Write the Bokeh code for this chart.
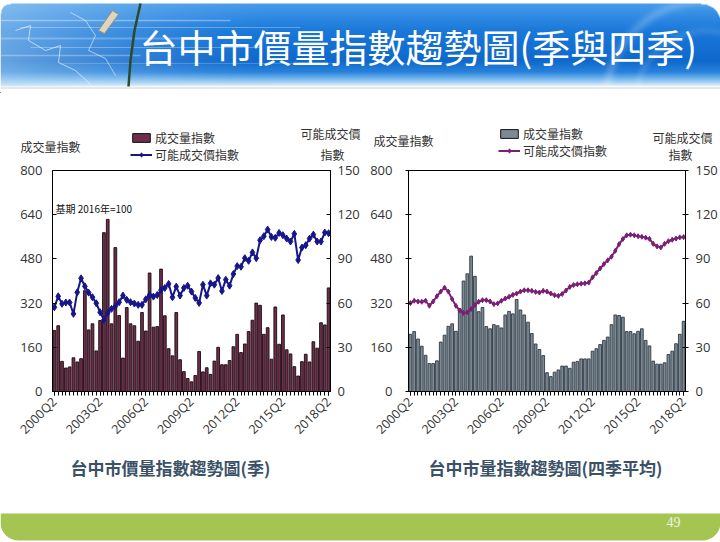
import math
import numpy as np
from bokeh.plotting import figure
from bokeh.models import (Range1d, LinearAxis, FixedTicker, Legend, LegendItem,
                          Label, ColumnDataSource)
from bokeh.core.properties import value
from bokeh.layouts import column, row
from bokeh.embed import file_html
from bokeh.resources import INLINE

# ---------------- data ----------------
quarters = [f"{y}Q{q}" for y in range(2000, 2019) for q in range(1, 5)][1:74]   # 2000Q2 .. 2018Q2
tick_labels = ["2000Q2", "2003Q2", "2006Q2", "2009Q2", "2012Q2", "2015Q2", "2018Q2"]

# quarterly volume index (成交量指數)
volume_q = [221, 238, 109, 85, 89, 122, 107, 119, 365, 223,
            245, 147, 257, 575, 623, 245, 521, 275, 121, 304,
            245, 238, 182, 286, 219, 429, 233, 235, 443, 274,
            155, 129, 286, 115, 72, 47, 35, 58, 145, 71,
            86, 62, 110, 160, 97, 97, 112, 162, 207, 141,
            172, 217, 258, 320, 312, 207, 231, 117, 306, 171,
            277, 151, 136, 90, 56, 108, 135, 107, 180, 157,
            249, 241, 375]
# quarterly possible transaction price index (可能成交價指數)
price_q = [57.2, 64.6, 59.5, 60.4, 60.4, 52.7, 67.3, 76.8, 71.4, 67.1,
           64.0, 59.9, 53.8, 48.6, 53.4, 56.1, 57.9, 60.6, 65.1, 62.2,
           60.6, 59.7, 58.8, 58.8, 62.6, 65.5, 64.4, 65.5, 68.9, 70.3,
           73.0, 64.0, 71.2, 65.1, 70.3, 71.8, 67.8, 63.5, 60.1, 72.5,
           65.1, 73.4, 72.5, 77.0, 68.2, 75.9, 71.8, 79.7, 85.1, 84.7,
           90.5, 88.7, 94.4, 90.5, 102.7, 105.4, 109.9, 104.9, 104.3, 107.6,
           106.1, 103.8, 101.8, 107.0, 89.2, 97.7, 99.3, 103.8, 106.5, 101.8,
           101.8, 107.9, 107.4]

# four-quarter average volume index
volume_4q = [207, 217, 190, 164, 131, 101, 101, 111, 179, 204,
             236, 245, 218, 300, 400, 426, 490, 417, 289, 304,
             235, 227, 242, 238, 230, 277, 290, 281, 333, 295,
             277, 251, 210, 172, 152, 130, 68, 54, 70, 78,
             92, 92, 84, 106, 109, 118, 118, 118, 146, 155,
             170, 185, 197, 242, 277, 275, 269, 217, 217, 209,
             218, 227, 185, 165, 110, 99, 99, 104, 134, 146,
             173, 207, 254]
# four-quarter average price index
price_4q = [60.0, 61.6, 61.1, 60.9, 61.6, 58.2, 61.1, 64.7, 67.8, 70.5,
            67.8, 62.7, 58.2, 54.9, 53.3, 53.7, 56.0, 58.7, 60.9, 62.0,
            62.0, 61.1, 59.3, 59.8, 61.6, 63.1, 64.3, 65.6, 66.5, 67.8,
            68.7, 68.7, 68.3, 67.6, 67.2, 68.3, 67.8, 66.5, 65.4, 64.9,
            66.2, 68.5, 71.0, 72.3, 72.8, 73.2, 73.4, 73.9, 77.5, 80.4,
            83.5, 86.5, 89.0, 91.5, 95.5, 100.0, 103.5, 106.0, 106.4, 106.0,
            105.4, 105.0, 104.4, 103.6, 100.2, 98.5, 97.8, 100.2, 102.0, 103.0,
            103.8, 104.6, 104.8]

legend_labels = ["成交量指數", "可能成交價指數"]

CJK = "Noto Sans CJK TC"
NUM = "Open Sans"

LEFT_STYLE = dict(bar_fill="#6e2e4c", bar_line="#1a0a0f", line_color="#16168a", msize=7)
RIGHT_STYLE = dict(bar_fill="#7d8a94", bar_line="#2e3a44", line_color="#7b1e77", msize=5)

B = 162   # page y where the chart row starts


def blank(width, height, x0, y0, flip=True):
    yr = Range1d(y0 + height, y0) if flip else Range1d(0, height)
    f = figure(width=width, height=height, x_range=Range1d(x0, x0 + width), y_range=yr,
               x_axis_type=None, y_axis_type=None, toolbar_location=None,
               output_backend="svg", min_border=0)
    f.outline_line_color = None
    f.grid.visible = False
    f.background_fill_color = "white"
    f.border_fill_color = "white"
    return f


# ---------------- header ----------------
hdr = blank(720, 92, 0, 0, flip=False)
H, W = 86, 720
yy, xx = np.mgrid[0:H, 0:W].astype(float)
stops_y = [0, 3, 30, 60, 71, 78, 83, 86]
stops_c = np.array([[70, 155, 235], [70, 155, 235], [25, 120, 218], [15, 105, 205],
                    [40, 130, 220], [120, 185, 238], [195, 222, 246], [255, 255, 255]], float)
rgb = np.zeros((H, W, 3))
for k in range(3):
    rgb[:, :, k] = np.interp(yy, stops_y, stops_c[:, k])
light = np.clip(1 - xx / 270.0, 0, 1) ** 1.4 * 0.5
rgb = rgb * (1 - light[..., None]) + np.array([190, 222, 245]) * light[..., None]
d = np.sqrt((xx - 705) ** 2 + (yy - 100) ** 2)
ring = np.exp(-((d - 100) / 5.0) ** 2) * 0.18 + np.exp(-((d - 70) / 4.0) ** 2) * 0.10
rgb = rgb * (1 - ring[..., None]) + 255 * ring[..., None]
alpha = np.full((H, W), 255.0)
alpha[yy < 3] = 0
r = 20
cm = (xx > W - r) & (yy < 3 + r) & ((xx - (W - r)) ** 2 + (yy - (3 + r)) ** 2 > r * r)
alpha[cm] = 0
r2 = 10
cm2 = (xx < r2) & (yy < 3 + r2) & ((xx - r2) ** 2 + (yy - (3 + r2)) ** 2 > r2 * r2)
alpha[cm2] = 0
img = np.zeros((H, W), dtype=np.uint32)
view = img.view(dtype=np.uint8).reshape((H, W, 4))
for k in range(3):
    view[:, :, k] = rgb[:, :, k].astype(np.uint8)
view[:, :, 3] = alpha.astype(np.uint8)
hdr.image_rgba(image=[np.flipud(img)], x=0, y=92 - 86, dw=720, dh=86)

for py, x0, x1, lw, a in [(20, 0, 230, 1.5, 0.35), (27, 20, 300, 1, 0.3), (38, 0, 180, 2, 0.25),
                          (47, 30, 260, 1, 0.3), (55, 0, 140, 1.5, 0.3), (63, 60, 330, 1, 0.2)]:
    hdr.line([x0, x1], [92 - py, 92 - py], line_color="white", line_alpha=a, line_width=lw)
hdr.line([15, 30, 28, 45, 60, 58, 75, 90], [62, 67, 52, 42, 47, 30, 22, 8],
         line_color="white", line_alpha=0.6, line_width=1)
hdr.line([70, 85, 95, 88, 105, 115], [80, 72, 57, 42, 34, 17],
         line_color="white", line_alpha=0.55, line_width=1)
hdr.line([140, 134, 130, 128], [89, 62, 32, 6], line_color="#2d4a2a", line_width=2.5)
hdr.patch([98, 112, 118, 104], [62, 82, 78, 59], fill_color="#dcd6c0", line_color="#9a9070")
hdr.line([0, 720], [4.5, 4.5], line_color="#c8d2dc", line_width=1)
hdr.add_layout(Label(x=139, y=92 - 45, text="台中市價量指數趨勢圖(季與四季)", text_baseline="middle",
                     text_font=CJK, text_font_size="38px", text_color="white"))

# ---------------- strip above the charts (axis titles and legends) ----------------
top = blank(720, B - 92, 0, 92)
titles = [(20, 146, "成交量指數"), (300, 133, "可能成交價"), (320, 154, "指數"),
          (373, 140, "成交量指數"), (652, 137, "可能成交價"), (668, 154, "指數")]
tsrc = ColumnDataSource(dict(x=[t[0] for t in titles], y=[t[1] for t in titles], t=[t[2] for t in titles]))
top.text(x="x", y="y", text="t", source=tsrc, text_baseline="middle", text_align="left",
         text_font=value(CJK), text_font_size="12px", text_color="#333333")


def add_legend(fig, style, loc):
    # legend-only renderers, placed outside the visible strip so only their legend swatches show
    b = fig.vbar(x=[-500], top=[-500], bottom=[-501], width=1, fill_color=style["bar_fill"],
                 line_color="#111111", line_width=1)
    l = fig.line(x=[-500, -499], y=[-500, -500], line_color=style["line_color"], line_width=2)
    m = fig.scatter(x=[-500], y=[-500], marker="diamond", size=style["msize"],
                    fill_color=style["line_color"], line_color=style["line_color"])
    leg = Legend(items=[LegendItem(label=legend_labels[0], renderers=[b]),
                        LegendItem(label=legend_labels[1], renderers=[l, m])],
                 location=loc, padding=0, margin=0, spacing=0, label_height=12,
                 glyph_height=11, glyph_width=22, label_standoff=3,
                 background_fill_alpha=0, border_line_alpha=0,
                 label_text_font=CJK, label_text_font_size="12px", label_text_color="#333333")
    fig.add_layout(leg)


add_legend(top, LEFT_STYLE, (130, -1))
add_legend(top, RIGHT_STYLE, (498, 3))

# ---------------- charts ----------------
xs = list(range(len(quarters)))
tick_pos = [quarters.index(t) for t in tick_labels]


def chart(width, height, bl, br, bt, vol, price, style, tick_in_out, base_note=False):
    bb = height - bt - 223
    p = figure(width=width, height=height, x_range=Range1d(-0.5, len(xs) - 0.5), y_range=Range1d(0, 800),
               toolbar_location=None, output_backend="svg",
               min_border_left=bl, min_border_right=br, min_border_top=bt, min_border_bottom=bb)
    p.grid.visible = False
    p.outline_line_color = "black"
    p.outline_line_width = 1
    p.background_fill_color = "white"
    p.border_fill_color = "white"
    p.extra_y_ranges = {"price": Range1d(0, 150)}

    src = ColumnDataSource(dict(x=xs, vol=vol, price=price, q=quarters))
    p.vbar(x="x", top="vol", width=0.72, source=src, fill_color=style["bar_fill"],
           line_color=style["bar_line"], line_width=0.9)
    p.line(x="x", y="price", source=src, y_range_name="price", line_color=style["line_color"], line_width=2)
    p.scatter(x="x", y="price", source=src, y_range_name="price", marker="diamond",
              size=style["msize"], fill_color=style["line_color"], line_color=style["line_color"])

    tin, tout = tick_in_out
    xa = p.xaxis[0]
    xa.ticker = FixedTicker(ticks=tick_pos, minor_ticks=xs)
    xa.major_label_overrides = {tp: lab for tp, lab in zip(tick_pos, tick_labels)}
    xa.major_label_orientation = math.pi / 4
    xa.major_label_text_font = NUM
    xa.major_label_text_font_size = "12.5px"
    xa.major_label_text_color = "#333333"
    xa.major_tick_in = 0
    xa.major_tick_out = 4
    xa.minor_tick_in = 0
    xa.minor_tick_out = 4
    xa.major_label_standoff = 4
    xa.axis_line_color = "black"

    ya = p.yaxis[0]
    ya.ticker = FixedTicker(ticks=[0, 160, 320, 480, 640, 800], minor_ticks=[])
    ya.major_label_text_font = NUM
    ya.major_label_text_font_size = "13px"
    ya.major_label_text_color = "#333333"
    ya.major_tick_in = tin
    ya.major_tick_out = tout
    ya.minor_tick_line_color = None
    ya.major_label_standoff = 10 if bl > 49 else 13

    ra = LinearAxis(y_range_name="price", ticker=FixedTicker(ticks=[0, 30, 60, 90, 120, 150], minor_ticks=[]))
    ra.major_label_text_font = NUM
    ra.major_label_text_font_size = "13px"
    ra.major_label_text_color = "#333333"
    ra.major_tick_in = tin
    ra.major_tick_out = tout
    ra.minor_tick_line_color = None
    ra.major_label_standoff = 7
    p.add_layout(ra, "right")

    if base_note:
        p.add_layout(Label(x=3, y=183, x_units="screen", y_units="screen", text="基期 2016年=100",
                           text_baseline="middle", text_font=CJK, text_font_size="10px",
                           text_color="#111111"))
    return p


CH = 450 - B
left = chart(362, CH, 52, 32, 170 - B, volume_q, price_q, LEFT_STYLE, (4, 0), base_note=True)
right = chart(358, CH, 46, 34, 168 - B, volume_4q, price_4q, RIGHT_STYLE, (3, 3))

# ---------------- footer with subtitles ----------------
ftr = blank(720, 92, 0, 450)
rc = 18
ang_r = np.linspace(0, math.pi / 2, 12)
ang_l = np.linspace(math.pi / 2, math.pi, 12)
px = [0, 720] + list(720 - rc + rc * np.cos(ang_r)) + list(rc + rc * np.cos(ang_l))
py = [513, 513] + list(540 - rc + rc * np.sin(ang_r)) + list(540 - rc + rc * np.sin(ang_l))
ftr.patch(px, py, fill_color="#a5c552", line_color=None)
ssrc = ColumnDataSource(dict(x=[170, 545], y=[467, 467],
                             t=["台中市價量指數趨勢圖(季)", "台中市量指數趨勢圖(四季平均)"]))
ftr.text(x="x", y="y", text="t", source=ssrc, text_align="center", text_baseline="middle",
         text_font=value(CJK), text_font_size="17px", text_font_style="bold", text_color="#3b5166")
ftr.text(x=[673], y=[521], text=["49"], text_align="center", text_baseline="middle",
         text_font=value("Liberation Serif"), text_font_size="14px", text_color="#eef2e4")

layout = column(hdr, top, row(left, right), ftr)
open("out.html", "w").write(file_html(layout, INLINE))
